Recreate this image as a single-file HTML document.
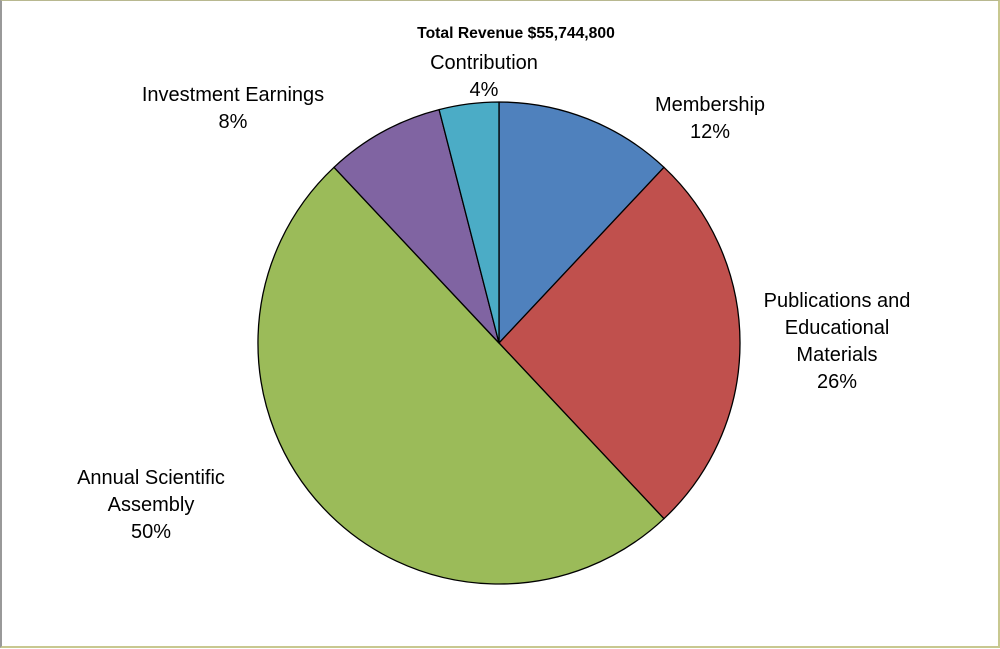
<!DOCTYPE html>
<html><head><style>
html,body{margin:0;padding:0;background:#fff;}
body{width:1000px;height:649px;position:relative;overflow:hidden;font-family:"Liberation Sans",sans-serif;}
.frame{position:absolute;left:0;top:0;width:996px;height:645px;border-top:1px solid #b8b890;border-left:2px solid #999;border-right:2px solid #c8c890;border-bottom:2px solid #c8c890;box-sizing:content-box;}
svg text{font-family:"Liberation Sans",sans-serif;font-size:20px;fill:#000;}
</style></head><body>
<div class="frame"></div>
<svg width="1000" height="649" style="position:absolute;left:0;top:0">
<g stroke="#000" stroke-width="1.3" stroke-linejoin="round">
<path d="M499,343 L499,102 A241,241 0 0 1 663.97,167.3 Z" fill="#4f81bd"/>
<path d="M499,343 L663.97,167.3 A241,241 0 0 1 663.97,518.7 Z" fill="#c0504d"/>
<path d="M499,343 L663.97,518.7 A241,241 0 0 1 334.0,167.3 Z" fill="#9bbb59"/>
<path d="M499,343 L334.0,167.3 A241,241 0 0 1 439.1,109.6 Z" fill="#8064a2"/>
<path d="M499,343 L439.1,109.6 A241,241 0 0 1 499,102 Z" fill="#4bacc6"/>
</g>
<text x="516" y="38" text-anchor="middle" style="font-size:15.7px;font-weight:bold">Total Revenue $55,744,800</text>
<text x="484" y="69" text-anchor="middle">Contribution</text>
<text x="484" y="96" text-anchor="middle">4%</text>
<text x="233" y="101" text-anchor="middle">Investment Earnings</text>
<text x="233" y="128" text-anchor="middle">8%</text>
<text x="710" y="111" text-anchor="middle">Membership</text>
<text x="710" y="138" text-anchor="middle">12%</text>
<text x="837" y="307" text-anchor="middle">Publications and</text>
<text x="837" y="334" text-anchor="middle">Educational</text>
<text x="837" y="361" text-anchor="middle">Materials</text>
<text x="837" y="388" text-anchor="middle">26%</text>
<text x="151" y="484" text-anchor="middle">Annual Scientific</text>
<text x="151" y="511" text-anchor="middle">Assembly</text>
<text x="151" y="538" text-anchor="middle">50%</text>
</svg>
</body></html>
